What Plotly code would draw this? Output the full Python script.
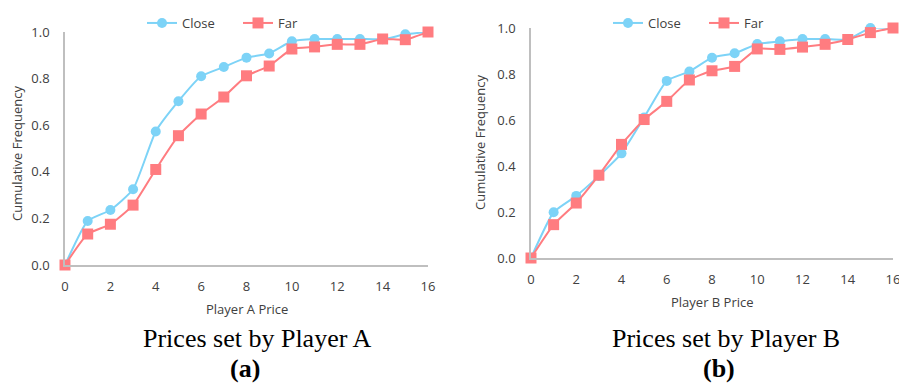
import plotly.graph_objects as go

prices = list(range(17))
a_close = [0, 0.189, 0.236, 0.325, 0.573, 0.703, 0.81, 0.85, 0.89, 0.908, 0.96, 0.97, 0.97, 0.97, 0.969, 0.99, 1.0]
a_far = [0, 0.133, 0.175, 0.257, 0.41, 0.555, 0.648, 0.721, 0.812, 0.854, 0.927, 0.936, 0.947, 0.947, 0.97, 0.967, 1.0]
b_close = [0, 0.199, 0.27, 0.357, 0.455, 0.611, 0.77, 0.811, 0.871, 0.89, 0.93, 0.942, 0.952, 0.952, 0.95, 1.0, 1.0]
b_far = [0, 0.145, 0.239, 0.36, 0.494, 0.602, 0.681, 0.774, 0.814, 0.833, 0.909, 0.907, 0.917, 0.929, 0.95, 0.98, 1.0]

x_ticks = list(range(0, 17, 2))
y_ticks = [0.0, 0.2, 0.4, 0.6, 0.8, 1.0]

CLOSE = "#7DD3F7"
FAR = "#FF7C80"
OFF = 8  # default page body margin
W, H = 907 - OFF, 386 - OFF

fig = go.Figure()

def add(x, y, name, color, symbol, xa, ya, legend):
    fig.add_trace(go.Scatter(
        x=x, y=y, name=name, mode="lines+markers",
        line=dict(color=color, width=2, shape="spline", smoothing=0.5),
        marker=dict(color=color, size=10 if symbol == "circle" else 11, symbol=symbol),
        xaxis=xa, yaxis=ya, legend=legend, cliponaxis=False,
    ))

add(prices, a_close, "Close", CLOSE, "circle", "x", "y", "legend")
add(prices, a_far, "Far", FAR, "square", "x", "y", "legend")
add(prices, b_close, "Close", CLOSE, "circle", "x2", "y2", "legend2")
add(prices, b_far, "Far", FAR, "square", "x2", "y2", "legend2")

def px_x(p):
    return (p - OFF) / W

def px_y(p):
    return 1 - (p - OFF) / H

tickfont = dict(family="Open Sans, Liberation Sans", size=13, color="#404040")
axcommon = dict(showgrid=False, zeroline=False, showline=True, linecolor="#BFBFBF",
                linewidth=1.5, ticks="", tickfont=tickfont, automargin=False)

legfont = dict(family="Open Sans, Liberation Sans", size=13, color="#404040")

fig.update_layout(
    template="none",
    width=W, height=H, margin=dict(l=0, r=0, t=0, b=0, pad=0),
    paper_bgcolor="white", plot_bgcolor="white",
    xaxis=dict(domain=[px_x(65), px_x(428)], range=[0, 16], tickvals=x_ticks, anchor="y",
               ticklabelstandoff=9, **axcommon),
    yaxis=dict(domain=[px_y(265), px_y(32)], range=[0, 1], tickvals=y_ticks, tickformat=".1f",
               anchor="x", ticklabelstandoff=11, **axcommon),
    xaxis2=dict(domain=[px_x(531), px_x(893)], range=[0, 16], tickvals=x_ticks, anchor="y2",
                ticklabelstandoff=9, **axcommon),
    yaxis2=dict(domain=[px_y(258), px_y(28)], range=[0, 1], tickvals=y_ticks, tickformat=".1f",
                anchor="x2", ticklabelstandoff=11, **axcommon),
    legend=dict(orientation="h", x=px_x(238), xanchor="center", y=px_y(8), yanchor="top",
                font=legfont, bgcolor="rgba(0,0,0,0)", itemwidth=30,
                entrywidth=51, entrywidthmode="pixels"),
    legend2=dict(orientation="h", x=px_x(704), xanchor="center", y=px_y(8), yanchor="top",
                 font=legfont, bgcolor="rgba(0,0,0,0)", itemwidth=30,
                 entrywidth=51, entrywidthmode="pixels"),
    showlegend=True,
)

small = dict(family="Open Sans, Liberation Sans", size=13, color="#404040")
serif = dict(family="Liberation Serif, Times New Roman", size=26, color="black")
serifb = dict(family="Liberation Serif, Times New Roman", size=26, color="black")

ann = [
    dict(text="Cumulative Frequency", x=px_x(17), y=px_y(153), textangle=-90, font=small),
    dict(text="Cumulative Frequency", x=px_x(480), y=px_y(142), textangle=-90, font=small),
    dict(text="Player A Price", x=px_x(247), y=px_y(309), font=small),
    dict(text="Player B Price", x=px_x(712), y=px_y(302), font=small),
    dict(text="Prices set by Player A", x=px_x(257), y=px_y(338), font=serif),
    dict(text="Prices set by Player B", x=px_x(726), y=px_y(338), font=serif),
    dict(text="<b>(a)</b>", x=px_x(245), y=px_y(368), font=serifb),
    dict(text="<b>(b)</b>", x=px_x(719), y=px_y(368), font=serifb),
]
for a in ann:
    a.update(xref="paper", yref="paper", showarrow=False, xanchor="center", yanchor="middle")
fig.update_layout(annotations=ann)

fig.write_html("out.html")
